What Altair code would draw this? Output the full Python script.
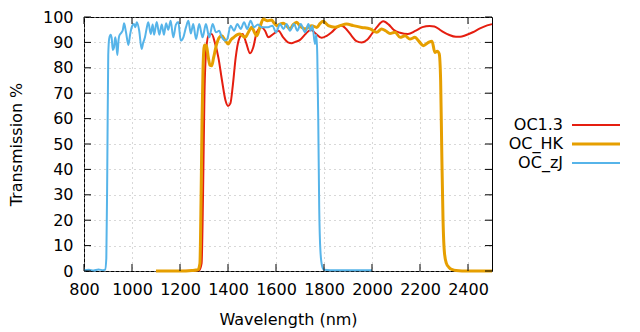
import altair as alt
import pandas as pd

# ---------------- data ----------------
series_names = ["OC1.3", "OC_HK", "OC_zJ"]
series_colors = ["#e51e10", "#e69f00", "#56b4e9"]
series_widths = [2, 3, 2]

oc13_wl = [1200, 1280, 1290, 1296, 1302, 1310, 1320, 1332, 1345, 1360, 1375, 1390, 1400,
           1410, 1420, 1432, 1445, 1461, 1475, 1492, 1505, 1520, 1540, 1555, 1568, 1589,
           1610, 1630, 1650, 1665, 1680, 1700, 1725, 1745, 1765, 1790, 1810, 1832, 1855,
           1874, 1895, 1915, 1935, 1957, 1980, 1999, 2020, 2047, 2070, 2090, 2117, 2150,
           2180, 2210, 2240, 2260, 2290, 2320, 2350, 2367, 2390, 2420, 2450, 2480, 2500]
oc13_t = [0.0, 0.3, 3, 30, 70, 88, 93, 93.3, 90, 84, 75, 67, 65,
          66, 73, 84, 91, 93.3, 90, 85.7, 88, 94, 96, 94.5, 92, 93.3,
          94.6, 92, 90, 89.7, 90.2, 91, 93.5, 95, 93.5, 91.8, 92.5, 94, 96,
          96.6, 95, 92.6, 90.5, 90, 91, 93.3, 96, 98.3, 97, 95, 93.8, 93.3,
          94.5, 96, 96.5, 96.3, 94.5, 93, 92.2, 92.2, 92.8, 94, 95.5, 96.7, 97.2]

ochk_wl = [1100, 1150, 1200, 1250, 1275, 1283, 1288, 1292, 1296, 1302, 1310, 1318, 1325,
           1332, 1340, 1353, 1364, 1374, 1387, 1401, 1412, 1424, 1437, 1450, 1462, 1471,
           1485, 1499, 1510, 1520, 1533, 1547, 1565, 1582, 1593, 1603, 1617, 1630, 1645,
           1658, 1672, 1686, 1700, 1721, 1735, 1749, 1770, 1784, 1797, 1808, 1818, 1846,
           1867, 1894, 1922, 1957, 1992, 2020, 2040, 2058, 2075, 2096, 2117, 2138, 2158,
           2179, 2195, 2214, 2235, 2250, 2262, 2272, 2280, 2286, 2291, 2296, 2302, 2310,
           2320, 2335, 2350, 2400, 2450, 2500]
ochk_t = [0.0, 0.0, 0.0, 0.2, 0.5, 3, 30, 60, 80, 89, 88.7, 84, 81,
          80.8, 84, 89.4, 92, 92.6, 91, 89.4, 91, 92, 93, 93.3, 92.5, 92,
          94, 96, 94, 92.6, 96, 99.2, 98.5, 98.8, 97.5, 96.6, 97.2, 97.5, 96.5,
          95.3, 97, 97.9, 96.5, 95.3, 96, 96.6, 95.9, 97.5, 98.3, 97.5, 96.6, 96,
          96.6, 97.2, 96.6, 95.9, 95.3, 94, 95.3, 94.5, 93.5, 94, 92, 92.6, 91.3,
          92, 90.5, 88.7, 90, 90.5, 86, 86.5, 85.5, 75, 45, 20, 7, 3,
          1.5, 0.5, 0.2, 0.0, 0.0, 0.0]

oczj_wl = [800, 820, 840, 860, 880, 888, 893, 897, 901, 905, 911, 915, 920, 925, 930, 934,
           939, 944, 947, 957, 962, 967, 975, 985, 992, 999, 1008, 1014, 1020, 1030, 1040,
           1047, 1054, 1062, 1068, 1078, 1086, 1092, 1103, 1114, 1124, 1133, 1142, 1151,
           1161, 1172, 1183, 1193, 1203, 1214, 1225, 1235, 1245, 1255, 1267, 1280, 1294,
           1308, 1322, 1336, 1350, 1364, 1372, 1380, 1390, 1397, 1411, 1425, 1439, 1453,
           1467, 1480, 1494, 1508, 1525, 1539, 1553, 1567, 1585, 1600, 1617, 1631, 1644,
           1658, 1675, 1689, 1703, 1721, 1735, 1744, 1752, 1762, 1768, 1772, 1776, 1780,
           1785, 1792, 1800, 1850, 1900, 1950, 2000]
oczj_t = [0.3, 0.5, 0.2, 0.6, 0.3, 0.5, 5, 40, 85, 91.5, 93, 92, 87, 88, 92, 90,
          85, 91, 92.6, 94, 95, 97.5, 94, 89, 93, 96, 97.2, 96, 97.9, 94.6, 87.4,
          90, 92, 96, 97.9, 93.3, 97, 93, 98, 93, 97, 93, 97.5, 95,
          98.5, 92, 97, 98, 90.7, 92, 96, 98.5, 93.5, 97.2, 91.3, 97.2, 92,
          97.2, 92, 97.2, 94, 94.6, 92.5, 91.3, 90.7, 91.3, 96.6, 94.6, 97.2, 95.3,
          97.9, 95.3, 98.5, 96, 97, 96, 96, 96, 96.6, 94, 97.2, 95.3, 97.2,
          94.6, 97.2, 94.6, 97.2, 94, 97.2, 94.6, 96.6, 89.4, 93, 85, 60, 25,
          8, 2, 0.5, 0.3, 0.3, 0.3, 0.3]

x_ticks = [800, 1000, 1200, 1400, 1600, 1800, 2000, 2200, 2400]
y_ticks = [0, 10, 20, 30, 40, 50, 60, 70, 80, 90, 100]

# ---------------- build tables ----------------
W, H = 408, 254
FONT = "DejaVu Sans"
FS = 16

frames = []
for name, wl, t in [("OC1.3", oc13_wl, oc13_t), ("OC_HK", ochk_wl, ochk_t), ("OC_zJ", oczj_wl, oczj_t)]:
    frames.append(pd.DataFrame({"wl": wl, "t": t, "series": name}))
xt_df = pd.DataFrame({"v": x_ticks})
yt_df = pd.DataFrame({"v": y_ticks})
leg_df = pd.DataFrame({"series": series_names})

xs = alt.Scale(domain=[800, 2500], nice=False, zero=False)
ys = alt.Scale(domain=[0, 100], nice=False, zero=False)
cs = alt.Scale(domain=series_names, range=series_colors)

x_axis = alt.Axis(values=x_ticks, format="d", title="Wavelength (nm)", grid=True, ticks=False,
                  tickSize=0, domain=False, labelPadding=10, titlePadding=14, labelFlush=False)
y_axis = alt.Axis(values=y_ticks, format="d", title="Transmission %", grid=True, ticks=False,
                  tickSize=0, domain=False, labelPadding=11, titlePadding=18)

layers = []
for i, (name, df) in enumerate(zip(series_names, frames)):
    layers.append(
        alt.Chart(df).mark_line(interpolate="monotone", strokeWidth=series_widths[i]).encode(
            x=alt.X("wl:Q", scale=xs, axis=x_axis),
            y=alt.Y("t:Q", scale=ys, axis=y_axis if i == 0 else None),
            color=alt.Color("series:N", scale=cs, legend=None),
        )
    )

# inward ticks (mirrored on all four sides)
tick_bottom = alt.Chart(xt_df).mark_rule(color="black", strokeWidth=1).encode(
    x=alt.X("v:Q", scale=xs, axis=x_axis), y=alt.value(H), y2=alt.value(H - 7))
tick_top = alt.Chart(xt_df).mark_rule(color="black", strokeWidth=1).encode(
    x=alt.X("v:Q", scale=xs, axis=x_axis), y=alt.value(0), y2=alt.value(7))
tick_left = alt.Chart(yt_df).mark_rule(color="black", strokeWidth=1).encode(
    y=alt.Y("v:Q", scale=ys, axis=None), x=alt.value(0), x2=alt.value(7))
tick_right = alt.Chart(yt_df).mark_rule(color="black", strokeWidth=1).encode(
    y=alt.Y("v:Q", scale=ys, axis=None), x=alt.value(W), x2=alt.value(W - 7))

# custom legend: label then line sample, gnuplot style
leg_y = alt.Y("series:N", scale=alt.Scale(type="point", domain=series_names, range=[108, 146],
                                          padding=0), axis=None)
leg_text = alt.Chart(leg_df).mark_text(align="right", baseline="middle", font=FONT,
                                       fontSize=FS, color="black").encode(
    y=leg_y, x=alt.value(479), text="series:N")
leg_line_layers = []
for i, name in enumerate(series_names):
    leg_line_layers.append(
        alt.Chart(leg_df[leg_df.series == name]).mark_rule(strokeWidth=series_widths[i]).encode(
            y=leg_y, x=alt.value(488), x2=alt.value(536),
            color=alt.Color("series:N", scale=cs, legend=None))
    )

chart = alt.layer(
    *layers, tick_bottom, tick_top, tick_left, tick_right, leg_text, *leg_line_layers
).resolve_scale(y="independent").properties(
    width=W, height=H,
    background="white",
    autosize=alt.AutoSizeParams(type="none"),
    padding={"left": 84, "top": 17, "right": 148, "bottom": 61},
).configure_view(
    stroke="black", strokeWidth=1
).configure_axis(
    labelFont=FONT, labelFontSize=FS, labelColor="black",
    titleFont=FONT, titleFontSize=FS, titleFontWeight="normal", titleColor="black",
    gridColor="#b0b0b0", gridDash=[1, 4], gridWidth=1, gridOpacity=1,
)

chart.save("out.html", embed_options={"renderer": "svg", "actions": False})
